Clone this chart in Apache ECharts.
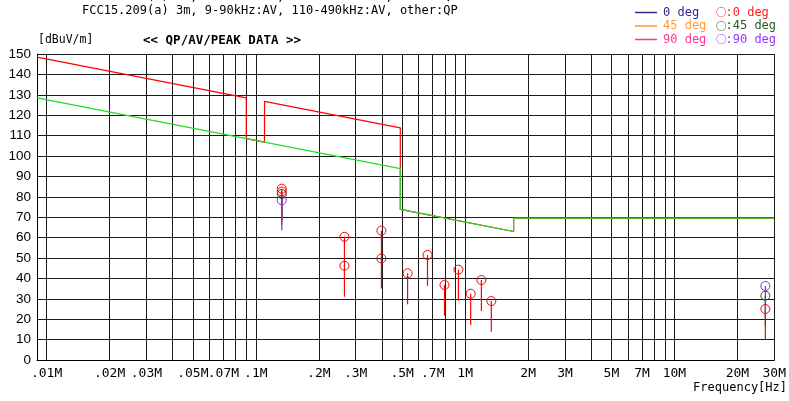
<!DOCTYPE html>
<html>
<head>
<meta charset="utf-8">
<script src="https://cdn.jsdelivr.net/npm/echarts@6/dist/echarts.min.js"></script>
<style>
  html, body { margin: 0; padding: 0; background: #fff; }
  #chart { width: 789px; height: 401px; }
</style>
</head>
<body>
<div id="chart"></div>
<script>
// frequency grid (MHz) and labelled ticks
const gridFreqs = [0.01, 0.02, 0.03, 0.04, 0.05, 0.06, 0.07, 0.08, 0.09,
  0.1, 0.2, 0.3, 0.4, 0.5, 0.6, 0.7, 0.8, 0.9,
  1, 2, 3, 4, 5, 6, 7, 8, 9, 10, 20, 30]
const labelFreqs = [0.01, 0.02, 0.03, 0.05, 0.07, 0.1, 0.2, 0.3, 0.5, 0.7,
  1, 2, 3, 5, 7, 10, 20, 30]
const labelTexts = ['.01M', '.02M', '.03M', '.05M', '.07M', '.1M', '.2M', '.3M', '.5M', '.7M',
  '1M', '2M', '3M', '5M', '7M', '10M', '20M', '30M']

// FCC15.209 limits (dBuV/m)
const peakLimitFreq = [0.009, 0.09, 0.09, 0.11, 0.11, 0.49, 0.49, 0.49, 1.705, 1.705, 30]
const peakLimitVal = [148.5, 128.5, 108.5, 106.8, 126.8, 113.8, 93.8, 73.8, 63.0, 69.5, 69.5]
const avLimitFreq = [0.009, 0.49, 0.49, 1.705, 1.705, 30]
const avLimitVal = [128.5, 93.8, 73.8, 63.0, 69.5, 69.5]

// measured points: circle level and bottom of the stem
const deg0Freq = [0.133, 0.133, 0.265, 0.265, 0.398, 0.398, 0.531, 0.661, 0.797, 0.929, 1.063, 1.196, 1.334, 27.2]
const deg0Level = [84.0, 82.6, 60.4, 46.2, 63.4, 49.8, 42.5, 51.5, 36.8, 44.3, 32.5, 39.2, 28.9, 25.0]
const deg0Low = [69.0, 67.6, 45.4, 31.0, 48.4, 35.1, 27.3, 36.4, 21.7, 29.1, 17.2, 24.0, 13.9, 10.1]
const deg45Freq = [0.133, 27.2]
const deg45Level = [81.4, 31.5]
const deg45Low = [66.4, 16.5]
const deg90Freq = [0.133, 27.2]
const deg90Level = [78.3, 36.3]
const deg90Low = [63.5, 21.3]

const MONO = '"DejaVu Sans Mono", monospace'
const CJK = '"Noto Sans CJK JP", sans-serif'

function zip2(a, b) { return a.map((v, i) => [v, b[i]]) }
function zip3(a, b, c) { return a.map((v, i) => [v, b[i], c[i]]) }

function stemItem(color) {
  return function (params, api) {
    const top = api.coord([api.value(0), api.value(1)])
    const bot = api.coord([api.value(0), api.value(2)])
    return {
      type: 'group',
      children: [
        { type: 'line', shape: { x1: top[0], y1: top[1], x2: bot[0], y2: bot[1] },
          style: { stroke: color, lineWidth: 1.2 } },
        { type: 'circle', shape: { cx: top[0], cy: top[1], r: 4.5 },
          style: { fill: null, stroke: color, lineWidth: 1 } }
      ]
    }
  }
}

function labelFor(v) {
  let best = 0
  labelFreqs.forEach((f, i) => {
    if (Math.abs(Math.log10(f) - Math.log10(v)) < Math.abs(Math.log10(labelFreqs[best]) - Math.log10(v))) best = i
  })
  return labelTexts[best]
}

const chart = echarts.init(document.getElementById('chart'), null, { renderer: 'canvas' })

const legendRows = [
  { y: 12.5, line: '#2a2a90', text: '0 deg', ctext: ':0 deg', ccol: '#ff2020' },
  { y: 26, line: '#ff9933', text: '45 deg', ctext: ':45 deg', ccol: '#1f5f1f' },
  { y: 39.5, line: '#ff3399', text: '90 deg', ctext: ':90 deg', ccol: '#9933ff' }
]
const graphics = []
legendRows.forEach(r => {
  graphics.push({ type: 'line', shape: { x1: 635, y1: r.y, x2: 657, y2: r.y }, style: { stroke: r.line, lineWidth: 1.5 } })
  graphics.push({ type: 'text', x: 663, y: r.y, style: { text: r.text, fill: r.line, font: '12px ' + MONO, textVerticalAlign: 'middle' } })
  graphics.push({ type: 'text', x: 716, y: r.y, style: { text: '○', fill: r.ccol, font: '10.5px ' + CJK, textVerticalAlign: 'middle' } })
  graphics.push({ type: 'text', x: 725.5, y: r.y, style: { text: r.ctext, fill: r.ccol, font: '12px ' + MONO, textVerticalAlign: 'middle' } })
})
graphics.push(
  { type: 'text', x: 18, y: -3.5, style: { text: 'LIMIT:', fill: '#000', font: '12px ' + MONO, textVerticalAlign: 'middle' } },
  { type: 'text', x: 82, y: -3.5, style: { text: 'FCC15.209(a) 3m, 9-90kHz:PK, 110-490kHz:PK, other:QP', fill: '#000', font: '12px ' + MONO, textVerticalAlign: 'middle' } },
  { type: 'text', x: 82, y: 10.5, style: { text: 'FCC15.209(a) 3m, 9-90kHz:AV, 110-490kHz:AV, other:QP', fill: '#000', font: '12px ' + MONO, textVerticalAlign: 'middle' } },
  { type: 'text', x: 38, y: 40.5, style: { text: '[dBuV/m]', fill: '#000', font: '11.5px ' + MONO, textVerticalAlign: 'middle' } },
  { type: 'text', x: 143, y: 40.5, style: { text: '<< QP/AV/PEAK DATA >>', fill: '#000', font: 'bold 12.5px ' + MONO, textVerticalAlign: 'middle' } },
  { type: 'text', x: 787, y: 388, style: { text: 'Frequency[Hz]', fill: '#000', font: '12px ' + MONO, textAlign: 'right', textVerticalAlign: 'middle' } }
)

const option = {
  animation: false,
  backgroundColor: '#fff',
  grid: { left: 37, right: 12, top: 54, bottom: 41, containLabel: false },
  xAxis: {
    type: 'log',
    logBase: 10,
    min: 0.009,
    max: 30,
    axisLine: { show: true, lineStyle: { color: '#000', width: 1 } },
    axisTick: { show: false, customValues: gridFreqs },
    axisLabel: {
      customValues: labelFreqs,
      formatter: labelFor,
      color: '#000',
      fontFamily: MONO,
      fontSize: 13,
      margin: 7
    },
    splitLine: { show: true, lineStyle: { color: '#1a1a1a', width: 1 } }
  },
  yAxis: {
    type: 'value',
    min: 0,
    max: 150,
    interval: 10,
    axisLine: { show: true, lineStyle: { color: '#000', width: 1 } },
    axisTick: { show: false },
    axisLabel: { color: '#000', fontFamily: '"Liberation Sans", Arial, sans-serif', fontSize: 13.5, margin: 6 },
    splitLine: { show: true, lineStyle: { color: '#1a1a1a', width: 1 } }
  },
  graphic: graphics,
  series: [
    { type: 'line', name: 'Peak limit', data: zip2(peakLimitFreq, peakLimitVal), symbol: 'none',
      lineStyle: { color: '#ff0000', width: 1.2 }, z: 3 },
    { type: 'line', name: 'AV limit', data: zip2(avLimitFreq, avLimitVal), symbol: 'none',
      lineStyle: { color: '#22dd22', width: 1.2 }, z: 4 },
    { type: 'custom', name: '0 deg', data: zip3(deg0Freq, deg0Level, deg0Low),
      encode: { x: 0, y: [1, 2] }, renderItem: stemItem('#ff0000'), z: 5 },
    { type: 'custom', name: '45 deg', data: zip3(deg45Freq, deg45Level, deg45Low),
      encode: { x: 0, y: [1, 2] }, renderItem: stemItem('#1f5f1f'), z: 6 },
    { type: 'custom', name: '90 deg', data: zip3(deg90Freq, deg90Level, deg90Low),
      encode: { x: 0, y: [1, 2] }, renderItem: stemItem('#8a2be2'), z: 7 }
  ]
}

chart.setOption(option)
</script>
</body>
</html>
